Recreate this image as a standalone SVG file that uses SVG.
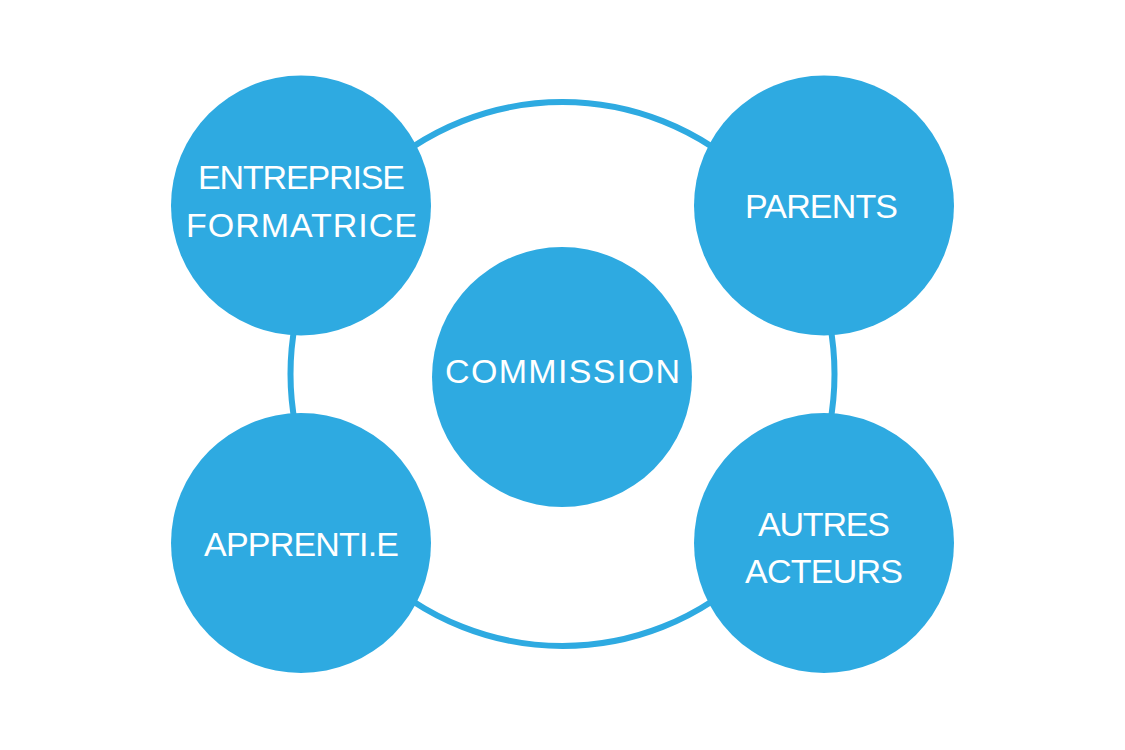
<svg xmlns="http://www.w3.org/2000/svg" width="1125" height="750" viewBox="0 0 1125 750">
<style>
.node{fill:#2eaae1}
.ring{fill:none;stroke:#2eaae1;stroke-width:6}
.lbl{fill:#ffffff;font-family:"Liberation Sans",Arial,sans-serif;font-size:34px}
</style>
<rect width="1125" height="750" fill="#ffffff"/>
<g id="connectors">
<circle class="ring" cx="562.5" cy="374" r="272"/>
</g>
<g id="node-entreprise">
<circle class="node" cx="301" cy="205.5" r="130"/>
<text class="lbl" x="198" y="189" textLength="207" lengthAdjust="spacing">ENTREPRISE</text>
<text class="lbl" x="186" y="237" textLength="231" lengthAdjust="spacing">FORMATRICE</text>
</g>
<g id="node-parents">
<circle class="node" cx="824" cy="205.5" r="130"/>
<text class="lbl" x="745" y="218" textLength="153" lengthAdjust="spacing">PARENTS</text>
</g>
<g id="node-commission">
<circle class="node" cx="562" cy="377" r="130"/>
<text class="lbl" x="445" y="383" textLength="235" lengthAdjust="spacing">COMMISSION</text>
</g>
<g id="node-apprenti">
<circle class="node" cx="301" cy="543" r="130"/>
<text class="lbl" x="204" y="556" textLength="195" lengthAdjust="spacing">APPRENTI.E</text>
</g>
<g id="node-autres">
<circle class="node" cx="824" cy="543" r="130"/>
<text class="lbl" x="758" y="536" textLength="132" lengthAdjust="spacing">AUTRES</text>
<text class="lbl" x="745" y="583" textLength="158" lengthAdjust="spacing">ACTEURS</text>
</g>
</svg>
